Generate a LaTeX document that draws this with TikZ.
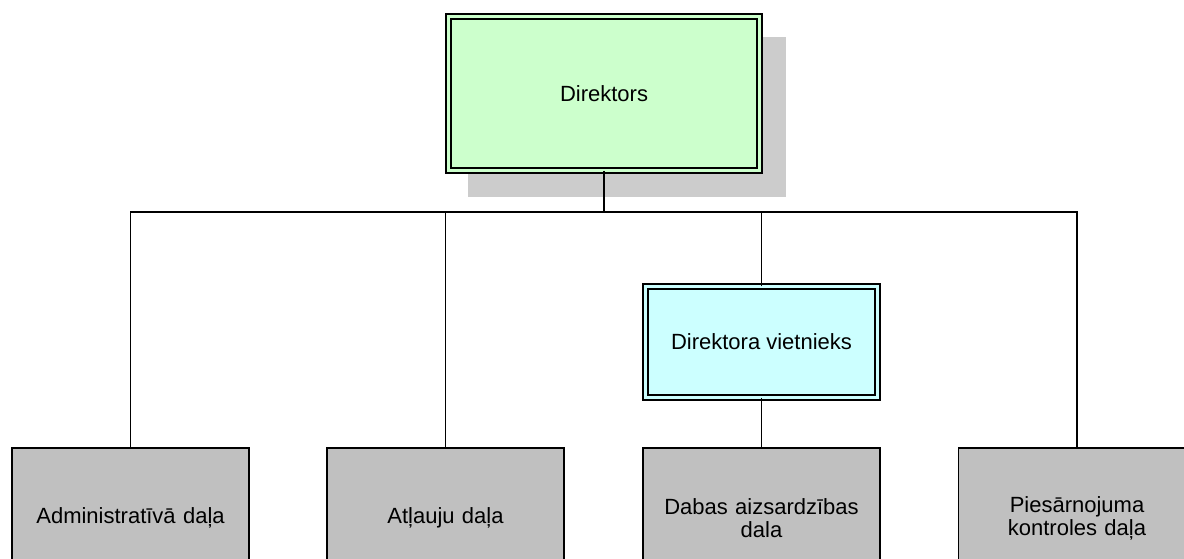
\documentclass[tikz,border=0pt]{standalone}
\usepackage{fontspec}
\setmainfont{Liberation Sans}
\usetikzlibrary{calc,backgrounds}
\definecolor{dirgreen}{HTML}{CCFFCC}
\definecolor{vicecyan}{HTML}{CCFFFF}
\definecolor{deptgrey}{HTML}{C0C0C0}
\definecolor{shadowgrey}{HTML}{CCCCCC}
\begin{document}
\begin{tikzpicture}[x=1pt,y=-1pt,
  conn/.style={draw=black, line width=1.8pt},
  lbl/.style={font=\fontsize{22}{23}\selectfont},
  dept/.style={lbl, draw=black, line width=1.8pt, fill=deptgrey, outer sep=0pt,
    minimum width=237pt, minimum height=140pt, inner sep=0pt, align=center, text width=225pt},
  lead/.style={lbl, draw=black, line width=1.9pt, double distance=2.8pt, outer sep=0pt,
    inner sep=0pt, align=center}]
\useasboundingbox (0,0) rectangle (1184,558);
\clip (0,0) rectangle (1184,558);
% leaders
\node[lead, double=dirgreen, fill=dirgreen, minimum width=311.5pt, minimum height=154.5pt] (dir) at (604,93.5) {Direktors};
\node[lead, double=vicecyan, fill=vicecyan, minimum width=232.5pt, minimum height=111.5pt] (vice) at (761.5,342) {Direktora vietnieks};
% departments
\node[dept] (d1) at (130.5,518) {Administratīvā daļa};
\node[dept] (d2) at (445.5,518) {Atļauju daļa};
\node[dept] (d3) at (761.5,518) {Dabas aizsardzības\\dala};
\node[dept] (d4) at (1077,518) {Piesārnojuma\\kontroles daļa};
% shadow
\begin{scope}[on background layer]
\fill[shadowgrey] ($(dir.north west)+(20,20.5)$) rectangle ($(dir.south east)+(26,26)$);
\end{scope}
% connectors
\coordinate (bus) at (604,212);
\draw[conn] (dir.south) -- (bus);
\draw[conn] (d1.north) -- (d1.north |- bus) -- (d4.north |- bus) -- (d4.north);
\draw[conn] (d2.north) -- (d2.north |- bus);
\draw[conn] (vice.north) -- (vice.north |- bus);
\draw[conn] (vice.south) -- (d3.north);
\end{tikzpicture}
\end{document}
